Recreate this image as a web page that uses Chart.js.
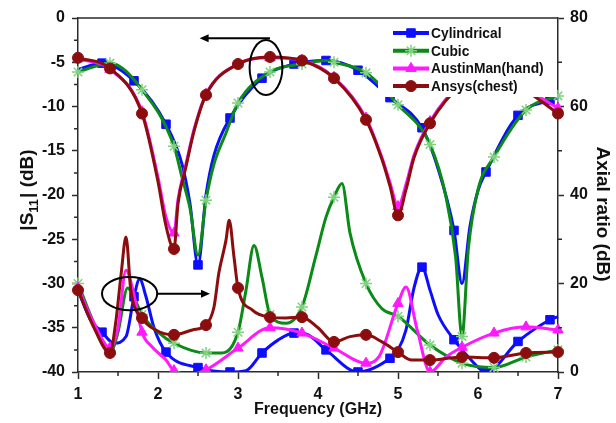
<!DOCTYPE html>
<html>
<head>
<meta charset="utf-8">
<title>S11 and axial ratio</title>
<script src="https://cdn.jsdelivr.net/npm/chart.js@4.4.1/dist/chart.umd.min.js"></script>
<style>
  html, body { margin: 0; padding: 0; background: #fff; }
  #wrap { width: 616px; height: 423px; }
</style>
</head>
<body>
<div id="wrap"><canvas id="chart" width="616" height="423"></canvas></div>
<script>
// |S11| (dB) and axial ratio (dB) against frequency (GHz)
var seriesNames = ["Cylindrical", "Cubic", "AustinMan(hand)", "Ansys(chest)"];

// Cylindrical
var cylS11F = [1.0, 1.3, 1.7, 2.1, 2.3, 2.4, 2.5, 2.6, 2.7, 2.9, 3.3, 3.7, 4.1, 4.5, 4.9, 5.3, 5.5, 5.7, 5.8, 5.9, 6.0, 6.1, 6.5, 6.9, 7.0];
var cylS11 = [-5.8, -5.1, -7.1, -12, -16.5, -21, -27.9, -20, -15.5, -11.3, -6.8, -5.2, -4.8, -5.9, -9, -12.4, -17, -24, -30, -23.5, -19.5, -17.4, -11, -9.3, -9.0];
var cylArF = [1.0, 1.15, 1.3, 1.45, 1.6, 1.7, 1.77, 1.85, 1.95, 2.1, 2.5, 2.9, 3.1, 3.3, 3.5, 3.7, 3.85, 4.1, 4.5, 4.9, 5.0, 5.1, 5.2, 5.3, 5.4, 5.5, 5.7, 5.9, 6.1, 6.5, 6.9, 7.0];
var cylAr = [18.5, 12, 9, 6.5, 8, 17, 21, 17, 10, 4.5, 1, 0, 0.3, 4.3, 7.2, 8.8, 8.6, 5, 0, 3.1, 5, 9.5, 19, 23.7, 18.5, 13, 7.3, 3, 0, 6.9, 11.8, 12.5];

// Cubic
var cubS11F = [1.0, 1.4, 1.8, 2.2, 2.3, 2.4, 2.5, 2.6, 2.7, 2.85, 3.0, 3.4, 3.8, 4.1, 4.2, 4.6, 5.0, 5.4, 5.6, 5.72, 5.8, 5.88, 6.0, 6.2, 6.6, 7.0];
var cubS11 = [-6.1, -5.1, -8.1, -14.5, -18, -21.5, -26.8, -20.6, -16.5, -13, -9.6, -6.1, -5.2, -4.8, -5.0, -6.2, -9.8, -14.3, -20.2, -27, -36, -26, -19.4, -15.7, -10.4, -8.8];
var cubArF = [1.0, 1.2, 1.4, 1.5, 1.62, 1.72, 1.8, 2.0, 2.2, 2.6, 2.8, 3.0, 3.1, 3.2, 3.3, 3.4, 3.6, 3.8, 3.97, 4.1, 4.2, 4.3, 4.4, 4.6, 4.8, 5.0, 5.4, 5.8, 6.2, 6.6, 7.0];
var cubAr = [20, 11, 4.3, 9, 19, 16, 13, 9, 6.5, 4.3, 4.3, 9, 18.5, 28.6, 21.4, 13, 11, 14.7, 26, 35, 39.5, 42.6, 31.4, 20, 14.3, 12.6, 6.1, 2, 1, 3.4, 5];

// AustinMan (hand)
var ausS11F = [1.0, 1.4, 1.8, 2.0, 2.1, 2.2, 2.25, 2.35, 2.45, 2.6, 3.0, 3.4, 3.8, 4.2, 4.6, 4.8, 4.9, 5.0, 5.1, 5.2, 5.4, 5.8, 6.2, 6.6, 7.0];
var ausS11 = [-4.6, -5.8, -10.6, -18, -22.5, -24.3, -20.5, -16.5, -12.6, -8.6, -5.2, -4.5, -4.8, -6.7, -11.3, -15.8, -18.6, -21.3, -18.8, -15.5, -11.7, -7.4, -6.0, -8.0, -10.2];
var ausArF = [1.0, 1.2, 1.4, 1.5, 1.6, 1.68, 1.8, 1.93, 2.1, 2.2, 2.4, 2.6, 3.0, 3.4, 3.8, 4.2, 4.6, 4.76, 5.0, 5.1, 5.24, 5.4, 5.6, 5.8, 6.2, 6.6, 7.0];
var ausAr = [19, 11, 5.5, 10, 23, 19, 9, 5.6, 2.7, 0.3, -0.5, 0.5, 5.4, 10, 8.8, 5.4, 2, 3.4, 15.5, 19.2, 9.5, 0, 3.4, 5.6, 8.8, 10.2, 9.5];

// Ansys (chest)
var ansS11F = ausS11F;
var ansS11 = [-4.5, -5.7, -10.8, -18.5, -23.5, -26.1, -21, -16.8, -12.8, -8.7, -5.2, -4.4, -4.8, -6.8, -11.5, -16, -19, -22.3, -19.4, -15.8, -11.9, -7.5, -6.0, -8.2, -10.8];
var ansArF = [1.0, 1.2, 1.4, 1.47, 1.54, 1.6, 1.66, 1.8, 1.97, 2.2, 2.43, 2.6, 2.7, 2.76, 2.85, 2.89, 2.95, 3.0, 3.18, 3.4, 3.6, 3.8, 4.0, 4.2, 4.4, 4.6, 4.8, 5.0, 5.17, 5.4, 5.8, 6.2, 6.6, 7.0];
var ansAr = [18.5, 10, 4.3, 11, 22.3, 30.5, 18.5, 12.2, 9.5, 8.4, 9.5, 10.6, 14.7, 22.3, 29.8, 34.3, 26, 19, 14, 12.4, 12.2, 12.4, 10, 6.8, 8, 8.4, 6.8, 4.5, 2.7, 2.7, 3.4, 3.2, 4.3, 4.5];

var FONT = "'Liberation Sans', Arial, sans-serif";
var AXIS_COLOR = "#2b2b2b";

// line colour, marker shape and first marked frequency per phantom
var styles = [
  { color: "#0d0dff", point: "rect", radius: 6, fill: "#0d0dff", edge: "#0d0dff", edgeWidth: 1, start: 1.3 },
  { color: "#0a8a16", point: "star", radius: 6, fill: "#7fd27f", edge: "#7fd27f", edgeWidth: 1.5, start: 1.0 },
  { color: "#ff19ff", point: "triangle", radius: 6, fill: "#ff19ff", edge: "#ff19ff", edgeWidth: 1, start: 1.0 },
  { color: "#8c0d0d", point: "circle", radius: 5.5, fill: "#8c0d0d", edge: "#8c0d0d", edgeWidth: 1, start: 1.0 }
];

function pts(fs, vs) {
  return fs.map(function (f, i) { return { x: f, y: vs[i] }; });
}

// symbols sit every 0.4 GHz along each curve
function gridMarker(start, r) {
  return function (c) {
    if (!c.raw) return 0;
    var k = (c.raw.x - start) / 0.4;
    return (k > -1e-6 && Math.abs(k - Math.round(k)) < 1e-6) ? r : 0;
  };
}

function curve(idx, fs, vs, axis) {
  var st = styles[idx];
  return {
    label: seriesNames[idx],
    data: pts(fs, vs),
    yAxisID: axis,
    borderColor: st.color,
    backgroundColor: st.color,
    borderWidth: 3,
    tension: 0.4,
    cubicInterpolationMode: "monotone",
    pointStyle: st.point,
    pointRadius: gridMarker(st.start, st.radius),
    pointBackgroundColor: st.fill,
    pointBorderColor: st.edge,
    pointBorderWidth: st.edgeWidth,
    clip: { left: 7, right: 7, top: 0, bottom: 0 },
    order: 4 - idx
  };
}

var datasets = [
  curve(0, cylS11F, cylS11, "y"), curve(0, cylArF, cylAr, "y2"),
  curve(1, cubS11F, cubS11, "y"), curve(1, cubArF, cubAr, "y2"),
  curve(2, ausS11F, ausS11, "y"), curve(2, ausArF, ausAr, "y2"),
  curve(3, ansS11F, ansS11, "y"), curve(3, ansArF, ansAr, "y2")
];

// small in-between ticks, the top frame line and the axis titles
var frame = {
  id: "frame",
  afterDraw: function (chart) {
    var ctx = chart.ctx, a = chart.chartArea, s = chart.scales;
    ctx.save();
    ctx.strokeStyle = AXIS_COLOR;
    ctx.lineWidth = 1.5;
    ctx.beginPath();
    ctx.moveTo(a.left, a.top);
    ctx.lineTo(a.right, a.top);
    var v, p;
    for (v = 1.5; v < 7; v += 1) {
      p = s.x.getPixelForValue(v);
      ctx.moveTo(p, a.bottom); ctx.lineTo(p, a.bottom + 4);
    }
    for (v = -37.5; v < 0; v += 5) {
      p = s.y.getPixelForValue(v);
      ctx.moveTo(a.left, p); ctx.lineTo(a.left - 4, p);
    }
    for (v = 10; v < 80; v += 20) {
      p = s.y2.getPixelForValue(v);
      ctx.moveTo(a.right, p); ctx.lineTo(a.right + 4, p);
    }
    ctx.stroke();

    ctx.fillStyle = "#111";
    ctx.textBaseline = "middle";
    ctx.textAlign = "center";
    ctx.font = "bold 16px " + FONT;
    ctx.fillText("Frequency (GHz)", (a.left + a.right) / 2, 410);

    ctx.save();
    ctx.translate(602, 214);
    ctx.rotate(Math.PI / 2);
    ctx.font = "bold 19px " + FONT;
    ctx.fillText("Axial ratio (dB)", 0, 0);
    ctx.restore();

    ctx.save();
    ctx.translate(28, 190);
    ctx.rotate(-Math.PI / 2);
    ctx.textAlign = "left";
    var big = "bold 19px " + FONT, small = "bold 13px " + FONT;
    ctx.font = big;
    var w1 = ctx.measureText("|S").width, w3 = ctx.measureText("| (dB)").width;
    ctx.font = small;
    var w2 = ctx.measureText("11").width + 1;
    var x0 = -(w1 + w2 + w3) / 2;
    ctx.font = big;
    ctx.fillText("|S", x0, 0);
    ctx.font = small;
    ctx.fillText("11", x0 + w1, 6);
    ctx.font = big;
    ctx.fillText("| (dB)", x0 + w1 + w2, 0);
    ctx.restore();
    ctx.restore();
  }
};

function arrow(ctx, x1, y, x2) {
  var dir = x2 > x1 ? 1 : -1;
  ctx.beginPath();
  ctx.moveTo(x1, y);
  ctx.lineTo(x2 - dir * 8, y);
  ctx.stroke();
  ctx.beginPath();
  ctx.moveTo(x2, y);
  ctx.lineTo(x2 - dir * 9, y - 4);
  ctx.lineTo(x2 - dir * 9, y + 4);
  ctx.closePath();
  ctx.fill();
}

// legend box over the curves, plus the ellipses pointing at each axis
var overlay = {
  id: "overlay",
  afterDatasetsDraw: function (chart) {
    var ctx = chart.ctx, s = chart.scales, a = chart.chartArea;
    ctx.save();
    ctx.fillStyle = "#fff";
    ctx.fillRect(378, a.top + 1, a.right - 378 - 1, 78);

    var rowY = 33;
    seriesNames.forEach(function (name, i) {
      var st = styles[i];
      ctx.strokeStyle = st.color;
      ctx.lineWidth = 4;
      ctx.beginPath();
      ctx.moveTo(393, rowY);
      ctx.lineTo(429, rowY);
      ctx.stroke();
      ctx.fillStyle = st.fill;
      ctx.strokeStyle = st.edge;
      ctx.lineWidth = st.edgeWidth;
      Chart.helpers.drawPoint(ctx, { pointStyle: st.point, radius: st.radius, rotation: 0, borderWidth: st.edgeWidth }, 411, rowY);
      ctx.fillStyle = "#111";
      ctx.font = "bold 13.8px " + FONT;
      ctx.textAlign = "left";
      ctx.textBaseline = "middle";
      ctx.fillText(name, 431, rowY + 1);
      rowY += 17.7;
    });

    ctx.strokeStyle = "#000";
    ctx.fillStyle = "#000";
    ctx.lineWidth = 2;

    // S11 group -> left axis
    var cx = s.x.getPixelForValue(3.35), cy = s.y.getPixelForValue(-5.6);
    var rx = (s.x.getPixelForValue(3.56) - s.x.getPixelForValue(3.15)) / 2;
    var ry = (s.y.getPixelForValue(-8.7) - s.y.getPixelForValue(-2.5)) / 2;
    ctx.beginPath();
    ctx.ellipse(cx, cy, rx, ry, 0, 0, Math.PI * 2);
    ctx.stroke();
    arrow(ctx, s.x.getPixelForValue(3.4), s.y.getPixelForValue(-2.3), s.x.getPixelForValue(2.52));

    // axial ratio group -> right axis
    cx = s.x.getPixelForValue(1.645); cy = s.y2.getPixelForValue(17.7);
    rx = (s.x.getPixelForValue(1.99) - s.x.getPixelForValue(1.3)) / 2;
    ry = (s.y2.getPixelForValue(14) - s.y2.getPixelForValue(21.5)) / 2;
    ctx.beginPath();
    ctx.ellipse(cx, cy, rx, ry, 0, 0, Math.PI * 2);
    ctx.stroke();
    arrow(ctx, s.x.getPixelForValue(1.99), cy, s.x.getPixelForValue(2.65));
    ctx.restore();
  }
};

var tickFont = { family: FONT, size: 16, weight: "bold" };

new Chart(document.getElementById("chart"), {
  type: "line",
  data: { datasets: datasets },
  plugins: [overlay, frame],
  options: {
    responsive: false,
    animation: false,
    devicePixelRatio: 1,
    events: [],
    layout: { padding: { top: 18, left: 0, right: 0, bottom: 0 } },
    plugins: { legend: { display: false }, tooltip: { enabled: false } },
    scales: {
      x: {
        type: "linear", position: "bottom", min: 1, max: 7,
        ticks: { stepSize: 1, font: tickFont, color: "#111", padding: 6, maxRotation: 0 },
        grid: { drawOnChartArea: false, tickLength: 7, tickColor: AXIS_COLOR, tickWidth: 1.5 },
        border: { color: AXIS_COLOR, width: 1.5 },
        afterFit: function (sc) { sc.height = 51; }
      },
      y: {
        position: "left", min: -40, max: 0,
        ticks: { stepSize: 5, font: tickFont, color: "#111", padding: 7 },
        grid: { drawOnChartArea: false, tickLength: 6, tickColor: AXIS_COLOR, tickWidth: 1.5 },
        border: { color: AXIS_COLOR, width: 1.5 },
        afterFit: function (sc) { sc.width = 78; }
      },
      y2: {
        position: "right", min: 0, max: 80,
        ticks: { stepSize: 20, font: tickFont, color: "#111", padding: 6 },
        grid: { drawOnChartArea: false, tickLength: 6, tickColor: AXIS_COLOR, tickWidth: 1.5 },
        border: { color: AXIS_COLOR, width: 1.5 },
        afterFit: function (sc) { sc.width = 58; }
      }
    }
  }
});
</script>
</body>
</html>
